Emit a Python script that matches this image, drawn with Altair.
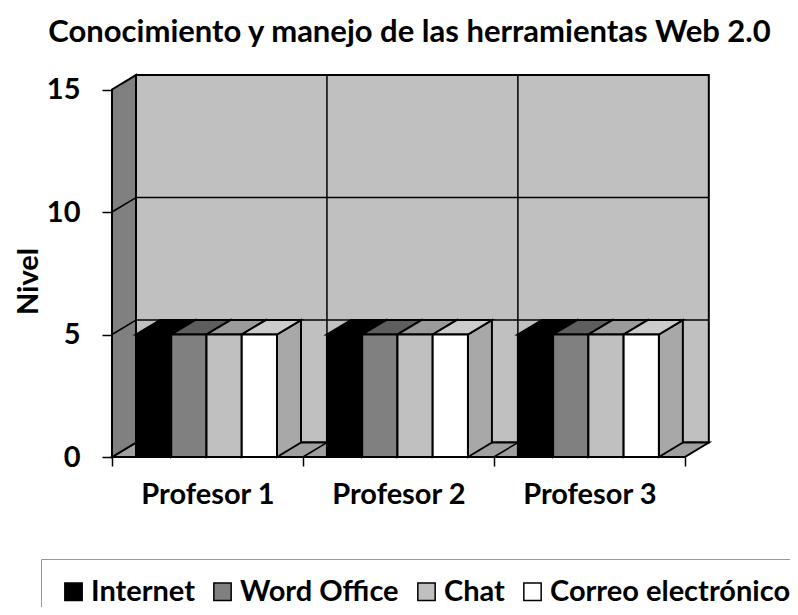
import json
import altair as alt
import pandas as pd

# ---------------- data ----------------
categories = ["Profesor 1", "Profesor 2", "Profesor 3"]
series = ["Internet", "Word Office", "Chat", "Correo electrónico"]
internet = [5, 5, 5]
word_office = [5, 5, 5]
chat = [5, 5, 5]
correo = [5, 5, 5]
values_by_series = [internet, word_office, chat, correo]
y_ticks = [0, 5, 10, 15]
title_text = "Conocimiento y manejo de las herramientas Web 2.0"
y_title = "Nivel"

# ---------------- styles / geometry ----------------
front_colors = ["#000000", "#808080", "#c0c0c0", "#ffffff"]
top_colors = ["#000000", "#5e5e5e", "#9a9a9a", "#cccccc"]
side_colors = ["#000000", "#5e5e5e", "#9a9a9a", "#a8a8a8"]
WALL_BACK = "#c0c0c0"
WALL_SIDE = "#808080"
FLOOR = "#a0a0a0"
FONT = "Lato"
FS = 29
FS_TITLE = 31

DX = 0.1257      # 3-D depth along x (category units)
DY = 0.59        # 3-D depth along y (value units)
BAR_W = 0.1846   # width of one bar (category units)
Y_MAX = 15
N = len(categories)
X_DOMAIN = [0, 3.2]
Y_DOMAIN = [0, 16]

xs = alt.Scale(domain=X_DOMAIN, nice=False, zero=False)
ys = alt.Scale(domain=Y_DOMAIN, nice=False, zero=False)

# ---------------- build tables ----------------
fronts, sides, tops = [], [], []
for ci, cat in enumerate(categories):
    for si, name in enumerate(series):
        v = values_by_series[si][ci]
        a = ci + DX + si * BAR_W
        b = a + BAR_W
        bid = f"{ci}-{si}"
        fronts.append({"cat": cat, "series": name, "x": a, "x2": b, "y": 0, "y2": v})
        sides.append({"id": bid, "x": b, "lo": 0, "hi": v, "c": side_colors[si]})
        sides.append({"id": bid, "x": b + DX, "lo": DY, "hi": v + DY, "c": side_colors[si]})
        tops.append({"id": bid, "y": v, "xl": a, "xr": b, "c": top_colors[si]})
        tops.append({"id": bid, "y": v + DY, "xl": a + DX, "xr": b + DX, "c": top_colors[si]})

df_front = pd.DataFrame(fronts)
df_side = pd.DataFrame(sides)
df_top = pd.DataFrame(tops)

df_back = pd.DataFrame([{"x": DX, "x2": N + DX, "y": DY, "y2": Y_MAX + DY}])
df_sidewall = pd.DataFrame([
    {"id": "w", "x": 0, "lo": 0, "hi": Y_MAX},
    {"id": "w", "x": DX, "lo": DY, "hi": Y_MAX + DY},
])
df_floor = pd.DataFrame([
    {"id": "f", "y": 0, "xl": 0, "xr": N},
    {"id": "f", "y": DY, "xl": DX, "xr": N + DX},
])

grid = []
gid = 0
for v in y_ticks[1:-1]:
    grid += [{"id": gid, "s": 0, "x": DX, "y": v + DY}, {"id": gid, "s": 1, "x": N + DX, "y": v + DY}]
    gid += 1
    grid += [{"id": gid, "s": 0, "x": 0, "y": v}, {"id": gid, "s": 1, "x": DX, "y": v + DY}]
    gid += 1
for c in range(1, N):
    grid += [{"id": gid, "s": 0, "x": c + DX, "y": DY}, {"id": gid, "s": 1, "x": c + DX, "y": Y_MAX + DY}]
    gid += 1
    grid += [{"id": gid, "s": 0, "x": c, "y": 0}, {"id": gid, "s": 1, "x": c + DX, "y": DY}]
    gid += 1
df_grid = pd.DataFrame(grid)

# ---------------- axes (identical on every layer so they merge) ----------------
label_expr = ("datum.value % 1 == 0 ? '' : " + json.dumps(categories) + "[floor(datum.value)]")
x_vals = sorted(set([i for i in range(N + 1)] + [i + 0.5 for i in range(N)]))

x_axis = alt.Axis(
    values=x_vals, labelExpr=label_expr, title=None, grid=False, domain=False,
    tickColor="black", tickWidth=1.5, tickSize=9,
    tickOpacity={"condition": {"test": "datum.value % 1 != 0", "value": 0}, "value": 1},
    labelFont=FONT, labelFontSize=FS, labelFontWeight="bold", labelColor="black",
    labelPadding=14, labelOverlap=False, labelFlush=False, labelBaseline="top",
)
y_axis = alt.Axis(
    values=y_ticks, title=y_title, grid=False, domain=False,
    tickColor="black", tickWidth=1.5, tickSize=10,
    labelFont=FONT, labelFontSize=FS, labelFontWeight="bold", labelColor="black",
    labelPadding=22, labelOverlap=False, labelFlush=False,
    titleFont=FONT, titleFontSize=FS, titleFontWeight="bold", titleColor="black",
    titleAngle=270, titleX=-84, titleY=216, titleAlign="center", titleBaseline="middle",
)


def X(f):
    return alt.X(f, scale=xs, axis=x_axis)


def Y(f):
    return alt.Y(f, scale=ys, axis=y_axis)


# ---------------- layers ----------------
back = alt.Chart(df_back).mark_rect(fill=WALL_BACK, stroke="black", strokeWidth=2).encode(
    x=X("x:Q"), x2="x2:Q", y=Y("y:Q"), y2="y2:Q",
)

floor = alt.Chart(df_floor).mark_area(orient="horizontal", fill=FLOOR, stroke="black",
                                      strokeWidth=2, opacity=1).encode(
    y=Y("y:Q"), x=X("xl:Q"), x2="xr:Q", detail="id:N",
)

sidewall = alt.Chart(df_sidewall).mark_area(orient="vertical", fill=WALL_SIDE, stroke="black",
                                            strokeWidth=2, opacity=1).encode(
    x=X("x:Q"), y=Y("lo:Q"), y2="hi:Q", detail="id:N",
)

gridlines = alt.Chart(df_grid).mark_line(color="black", strokeWidth=1.5).encode(
    x=X("x:Q"), y=Y("y:Q"), detail="id:N", order="s:Q",
)

bar_sides = alt.Chart(df_side).mark_area(orient="vertical", stroke="black", strokeWidth=2,
                                         opacity=1).encode(
    x=X("x:Q"), y=Y("lo:Q"), y2="hi:Q", detail="id:N",
    fill=alt.Fill("c:N", scale=None),
)

bar_tops = alt.Chart(df_top).mark_area(orient="horizontal", stroke="black", strokeWidth=2,
                                       opacity=1).encode(
    y=Y("y:Q"), x=X("xl:Q"), x2="xr:Q", detail="id:N",
    fill=alt.Fill("c:N", scale=None),
)

bar_front = alt.Chart(df_front).mark_rect(stroke="black", strokeWidth=2, opacity=1).encode(
    x=X("x:Q"), x2="x2:Q", y=Y("y:Q"), y2="y2:Q",
    fill=alt.Fill("series:N", scale=alt.Scale(domain=series, range=front_colors),
                  legend=alt.Legend(
                      orient="none", legendX=-71, legendY=494, direction="horizontal",
                      columns=4, title=None, labelFont=FONT, labelFontSize=FS,
                      labelFontWeight="bold", labelColor="black", labelLimit=600,
                      symbolType="square", symbolSize=300, symbolStrokeColor="black",
                      symbolStrokeWidth=1.5, symbolOpacity=1, labelOffset=3,
                      columnPadding=13, padding=18, strokeColor="#999999",
                      fillColor="white",
                  )),
)

chart = alt.layer(back, floor, sidewall, gridlines, bar_sides, bar_tops, bar_front).properties(
    width=611, height=392,
    title=alt.TitleParams(title_text, font=FONT, fontSize=FS_TITLE, fontWeight="bold",
                          color="black", anchor="middle", dx=-8, offset=16),
    autosize=alt.AutoSizeParams(type="none"),
    padding={"left": 104, "top": 57, "right": 67, "bottom": 150},
).configure_view(stroke=None)

chart.save("out.html", embed_options={"renderer": "svg", "actions": False})
